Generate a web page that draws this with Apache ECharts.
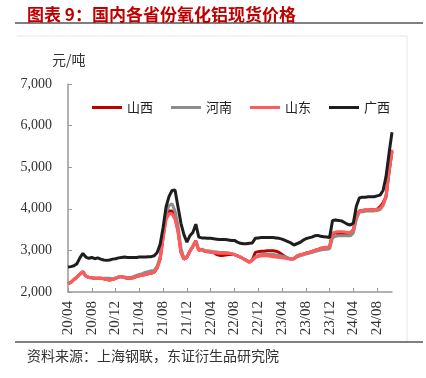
<!DOCTYPE html>
<html>
<head>
<meta charset="utf-8">
<script src="https://cdn.jsdelivr.net/npm/echarts@6/dist/echarts.min.js"></script>
<style>
html, body { margin: 0; padding: 0; background: #fff; }
#main { width: 426px; height: 378px; }
</style>
</head>
<body>
<div id="main"></div>
<script>
// 半月一个点，从 20/04 到 24/10 中旬
var tickLabels = ['20/04', '20/08', '20/12', '21/04', '21/08', '21/12', '22/04',
    '22/08', '22/12', '23/04', '23/08', '23/12', '24/04', '24/08'];

var shanxi = [2200, 2230, 2300, 2360, 2430, 2490, 2380, 2350, 2340, 2330,
    2330, 2330, 2320, 2300, 2290, 2300, 2330, 2360, 2370, 2350,
    2330, 2330, 2340, 2370, 2390, 2400, 2420, 2440, 2450, 2480,
    2580, 2790, 3320, 3800, 3950, 3950, 3800, 3480, 2960, 2790,
    2830, 2980, 3100, 3230, 3000, 3020, 2980, 2970, 2960, 2950,
    2900, 2880, 2880, 2890, 2900, 2910, 2900, 2870, 2840, 2800,
    2760, 2720, 2770, 2950, 2970, 2980, 2980, 2990, 2990, 2990,
    2980, 2950, 2900, 2850, 2810, 2790, 2800, 2860, 2890, 2910,
    2930, 2950, 2970, 3000, 3020, 3050, 3060, 3070, 3080, 3400,
    3420, 3400, 3380, 3380, 3400, 3420, 3500, 3800, 3950, 3960,
    3970, 3970, 3980, 3980, 3990, 4050, 4140, 4300, 4880, 5380];

var henan = [2200, 2230, 2300, 2350, 2420, 2480, 2380, 2350, 2340, 2330,
    2330, 2330, 2330, 2330, 2330, 2320, 2340, 2360, 2360, 2360,
    2350, 2350, 2370, 2400, 2420, 2440, 2470, 2490, 2510, 2520,
    2620, 2850, 3450, 3900, 4080, 4120, 3950, 3600, 3050, 2820,
    2850, 2980, 3080, 3200, 3000, 3030, 3000, 2990, 2980, 2970,
    2960, 2950, 2950, 2950, 2940, 2920, 2900, 2870, 2840, 2800,
    2760, 2720, 2770, 2840, 2880, 2900, 2910, 2910, 2900, 2900,
    2890, 2880, 2860, 2840, 2820, 2800, 2790, 2840, 2870, 2890,
    2910, 2930, 2950, 2970, 2990, 3010, 3020, 3030, 3040, 3300,
    3340, 3350, 3350, 3350, 3350, 3350, 3420, 3750, 3920, 3930,
    3940, 3950, 3950, 3950, 3960, 3980, 4080, 4280, 4880, 5380];

var shandong = [2200, 2230, 2300, 2360, 2430, 2490, 2380, 2350, 2340, 2330,
    2330, 2330, 2320, 2300, 2290, 2300, 2330, 2360, 2370, 2350,
    2330, 2330, 2340, 2370, 2390, 2400, 2420, 2440, 2450, 2480,
    2580, 2780, 3300, 3750, 3880, 3880, 3750, 3450, 2950, 2790,
    2830, 2980, 3100, 3230, 3000, 3020, 2980, 2970, 2960, 2950,
    2940, 2930, 2930, 2930, 2930, 2920, 2900, 2870, 2840, 2800,
    2760, 2710, 2760, 2830, 2850, 2870, 2880, 2870, 2860, 2850,
    2840, 2830, 2820, 2810, 2800, 2790, 2800, 2860, 2890, 2910,
    2930, 2950, 2970, 3000, 3020, 3050, 3060, 3070, 3080, 3420,
    3440, 3450, 3450, 3440, 3430, 3430, 3500, 3800, 3950, 3960,
    3970, 3970, 3980, 3980, 3990, 4010, 4100, 4300, 4900, 5420];

var guangxi = [2600, 2610, 2630, 2680, 2820, 2930, 2840, 2810, 2830, 2800,
    2820, 2790, 2770, 2760, 2770, 2790, 2800, 2820, 2830, 2840,
    2830, 2830, 2830, 2830, 2840, 2840, 2840, 2850, 2850, 2870,
    2950, 3150, 3550, 4050, 4300, 4440, 4450, 4050, 3650, 3380,
    3200, 3350, 3430, 3630, 3320, 3300, 3300, 3290, 3290, 3280,
    3270, 3260, 3260, 3260, 3250, 3240, 3240, 3200, 3170, 3160,
    3160, 3170, 3180, 3290, 3300, 3310, 3310, 3310, 3310, 3310,
    3300, 3290, 3270, 3240, 3210, 3180, 3130, 3160, 3190, 3240,
    3280, 3300, 3320, 3350, 3360, 3340, 3330, 3320, 3310, 3720,
    3730, 3720, 3710, 3670, 3630, 3610, 3660, 4060, 4260, 4280,
    4280, 4290, 4290, 4290, 4310, 4330, 4440, 4780, 5330, 5840];

var categories = [];
for (var i = 0; i < guangxi.length; i++) {
    categories.push(i % 8 == 0 ? tickLabels[i / 8] : '');
}

var serif = '"Liberation Serif", "DejaVu Serif", serif';
var cjk = '"Noto Sans CJK SC", sans-serif';

function line(name, data, color) {
    return {
        type: 'line',
        name: name,
        data: data,
        showSymbol: false,
        symbol: 'none',
        lineStyle: { color: color, width: 3 },
        itemStyle: { color: color }
    };
}

var chart = echarts.init(document.getElementById('main'));
var option = {
    animation: false,
    backgroundColor: '#fff',
    title: {
        text: '图表 9：国内各省份氧化铝现货价格',
        left: 22,
        top: 1,
        textStyle: { color: '#C00000', fontSize: 17, fontWeight: 'bold', fontFamily: cjk }
    },
    legend: {
        left: 87,
        top: 96,
        icon: 'rect',
        itemWidth: 30,
        itemHeight: 3,
        itemGap: 18,
        textStyle: { fontSize: 13, color: '#222', fontFamily: cjk },
        data: ['山西', '河南', '山东', '广西']
    },
    grid: { left: 68, right: 34, top: 84, bottom: 86 },
    xAxis: {
        type: 'category',
        data: categories,
        boundaryGap: false,
        axisLine: { lineStyle: { color: '#999', width: 1.5 } },
        axisTick: { inside: true, length: 4, interval: 7, lineStyle: { color: '#999' } },
        axisLabel: {
            interval: 7,
            rotate: 90,
            margin: 9,
            fontSize: 15,
            color: '#333',
            fontFamily: serif
        }
    },
    yAxis: {
        type: 'value',
        min: 2000,
        max: 7000,
        interval: 1000,
        splitLine: { show: false },
        axisLine: { show: true, lineStyle: { color: '#999', width: 1.5 } },
        axisTick: { show: true, inside: true, length: 4, lineStyle: { color: '#999' } },
        axisLabel: {
            margin: 16,
            fontSize: 14,
            color: '#333',
            fontFamily: serif,
            formatter: function (v) { return echarts.format.addCommas(v); }
        }
    },
    graphic: [
        { type: 'line', shape: { x1: 15, y1: 23, x2: 423, y2: 23 }, style: { stroke: '#555', lineWidth: 1.5 } },
        { type: 'line', shape: { x1: 17, y1: 36, x2: 407, y2: 36 }, style: { stroke: '#e6e6e6', lineWidth: 1 } },
        { type: 'line', shape: { x1: 407, y1: 36, x2: 407, y2: 341 }, style: { stroke: '#e6e6e6', lineWidth: 1 } },
        { type: 'line', shape: { x1: 15, y1: 342, x2: 423, y2: 342 }, style: { stroke: '#555', lineWidth: 1.5 } },
        { type: 'text', left: 52, top: 53, style: { text: '元/吨', fontSize: 14, fill: '#333', fontFamily: cjk } },
        { type: 'text', left: 27, top: 349, style: { text: '资料来源：上海钢联，东证衍生品研究院', fontSize: 14, fill: '#333', fontFamily: cjk } }
    ],
    series: [
        line('山西', shanxi, '#C00000'),
        line('河南', henan, '#8C8C8C'),
        line('山东', shandong, '#FF5B5B'),
        line('广西', guangxi, '#1E1E1E')
    ]
};
chart.setOption(option);
</script>
</body>
</html>
